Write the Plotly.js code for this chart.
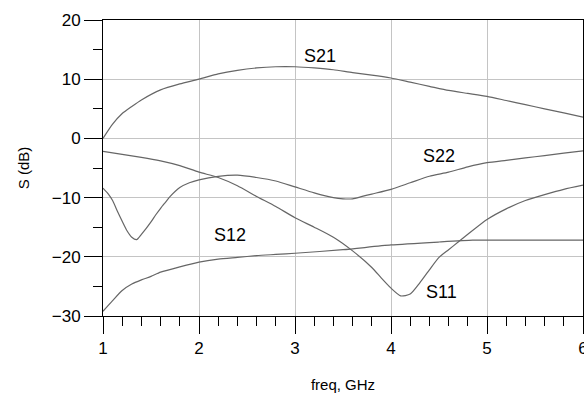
<!DOCTYPE html>
<html>
<head>
<meta charset="utf-8">
<script src="https://cdn.plot.ly/plotly-3.0.1.min.js"></script>
<style>
  html, body { margin: 0; padding: 0; background: #ffffff; }
  #chart { width: 584px; height: 401px; }
</style>
</head>
<body>
<div id="chart"></div>
<script>
// S-parameter magnitudes (dB) versus frequency (GHz)
const freqS21 = [1, 1.1, 1.2, 1.3, 1.4, 1.6, 1.8, 2.0, 2.2, 2.4, 2.6, 2.8, 3.0, 3.2, 3.4, 3.6, 3.8, 4.0, 4.2, 4.4, 4.6, 4.8, 5.0, 5.2, 5.4, 5.6, 5.8, 6.0];
const s21 = [0, 2.4, 4.2, 5.4, 6.5, 8.2, 9.2, 10.0, 10.9, 11.5, 11.9, 12.1, 12.1, 11.9, 11.6, 11.1, 10.7, 10.2, 9.5, 8.8, 8.1, 7.6, 7.1, 6.4, 5.7, 5.0, 4.3, 3.6];

const freqS11 = [1, 1.2, 1.4, 1.6, 1.8, 2.0, 2.2, 2.4, 2.6, 2.8, 3.0, 3.2, 3.4, 3.6, 3.8, 3.9, 4.0, 4.1, 4.2, 4.3, 4.4, 4.5, 4.6, 4.7, 4.8, 5.0, 5.2, 5.4, 5.6, 5.8, 6.0];
const s11 = [-2.2, -2.7, -3.2, -3.8, -4.6, -5.7, -6.6, -8.0, -9.8, -11.5, -13.4, -15.0, -16.7, -19.0, -21.8, -23.6, -25.3, -26.6, -26.3, -24.4, -22.2, -20.1, -18.8, -17.5, -16.2, -13.7, -11.9, -10.5, -9.5, -8.6, -7.9];

const freqS22 = [1, 1.05, 1.1, 1.15, 1.2, 1.25, 1.3, 1.35, 1.4, 1.45, 1.5, 1.55, 1.6, 1.65, 1.7, 1.8, 1.9, 2.0, 2.2, 2.4, 2.6, 2.8, 3.0, 3.2, 3.4, 3.5, 3.6, 3.7, 3.8, 4.0, 4.2, 4.4, 4.6, 4.8, 5.0, 5.2, 5.4, 5.6, 5.8, 6.0];
const s22 = [-8.4, -9.3, -10.5, -12.3, -14.0, -15.6, -16.7, -17.1, -16.2, -15.2, -14.1, -12.9, -11.8, -10.8, -9.8, -8.3, -7.5, -7.0, -6.4, -6.2, -6.6, -7.2, -8.2, -9.2, -10.0, -10.2, -10.2, -9.8, -9.4, -8.6, -7.5, -6.4, -5.7, -4.8, -4.1, -3.7, -3.3, -2.9, -2.5, -2.1];

const freqS12 = [1, 1.1, 1.2, 1.3, 1.4, 1.5, 1.6, 1.8, 2.0, 2.2, 2.4, 2.6, 2.8, 3.0, 3.5, 4.0, 4.5, 4.85, 5.0, 5.5, 6.0];
const s12 = [-29.2, -27.4, -25.7, -24.6, -23.9, -23.3, -22.6, -21.7, -20.9, -20.4, -20.1, -19.8, -19.6, -19.4, -18.8, -18.0, -17.5, -17.2, -17.2, -17.2, -17.2];

// Curve labels and where they sit (data coordinates)
const labelText = ['S21', 'S22', 'S12', 'S11'];
const labelX = [3.26, 4.50, 2.32, 4.53];
const labelY = [14.0, -2.9, -16.3, -26.0];

const curveColor = '#666666';
const textColor = '#000000';
const font = 'Arial, "Liberation Sans", sans-serif';

function curve(x, y, name) {
  return {
    x: x, y: y, name: name, type: 'scatter', mode: 'lines',
    line: { color: curveColor, width: 1.2, shape: 'spline', smoothing: 0.6 },
    hoverinfo: 'x+y+name'
  };
}

const data = [
  curve(freqS21, s21, 'S21'),
  curve(freqS11, s11, 'S11'),
  curve(freqS22, s22, 'S22'),
  curve(freqS12, s12, 'S12')
];

const layout = {
  width: 584, height: 401,
  margin: { l: 103, r: 1, t: 20, b: 85 },
  paper_bgcolor: '#ffffff', plot_bgcolor: '#ffffff',
  showlegend: false,
  font: { family: font, size: 16, color: textColor },
  xaxis: {
    range: [1, 6], dtick: 1, tick0: 1,
    showgrid: true, gridcolor: '#c4c4c4', gridwidth: 1,
    zeroline: false,
    showline: true, linecolor: '#000000', linewidth: 1, mirror: true,
    ticks: 'outside', ticklen: 17, tickwidth: 1, tickcolor: '#000000',
    ticklabeloverflow: 'allow',
    minor: { dtick: 0.2, ticks: 'outside', ticklen: 9, tickwidth: 1, tickcolor: '#000000', showgrid: false },
    tickfont: { family: font, size: 17, color: textColor },
    title: { text: 'freq, GHz', font: { family: font, size: 15, color: textColor }, standoff: 22 }
  },
  yaxis: {
    range: [-30, 20], dtick: 10, tick0: 0,
    showgrid: true, gridcolor: '#c4c4c4', gridwidth: 1,
    zeroline: false,
    showline: true, linecolor: '#000000', linewidth: 1, mirror: true,
    ticks: 'outside', ticklen: 18, tickwidth: 1, tickcolor: '#000000',
    minor: { dtick: 5, ticks: 'outside', ticklen: 9, tickwidth: 1, tickcolor: '#000000', showgrid: false },
    tickfont: { family: font, size: 17, color: textColor },
    title: { text: 'S (dB)', font: { family: font, size: 15, color: textColor }, standoff: 18 }
  },
  annotations: labelText.map((t, i) => ({
    x: labelX[i], y: labelY[i], xref: 'x', yref: 'y',
    text: t, showarrow: false,
    font: { family: font, size: 18, color: textColor },
    xanchor: 'center', yanchor: 'middle'
  }))
};

Plotly.newPlot('chart', data, layout, { displayModeBar: false, staticPlot: true });
</script>
</body>
</html>
